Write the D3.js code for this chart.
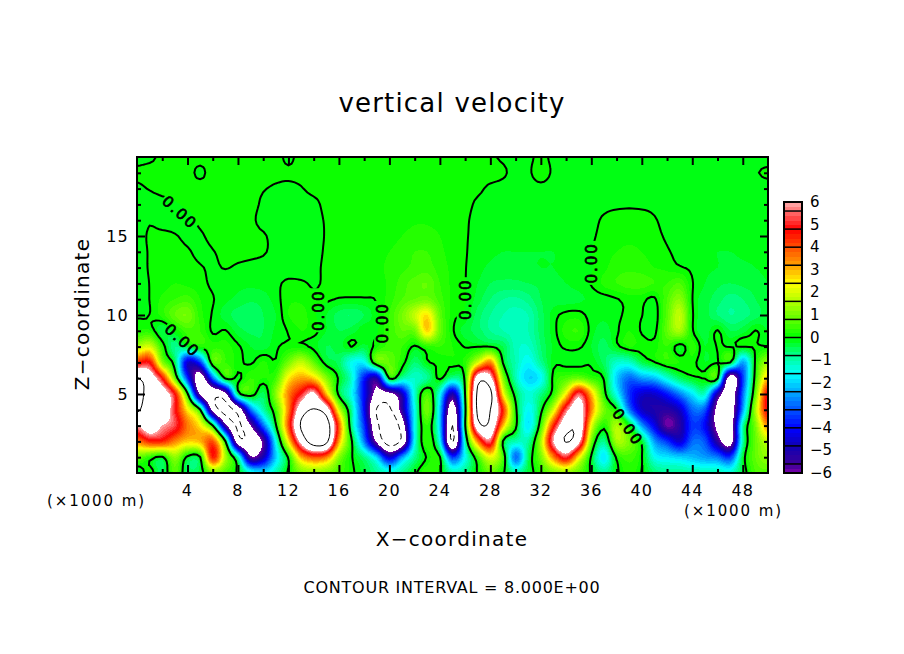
<!DOCTYPE html>
<html><head><meta charset="utf-8">
<script src="https://cdn.jsdelivr.net/npm/d3@7"></script>
<style>html,body{margin:0;padding:0;background:#fff}svg{display:block}text{font-family:"DejaVu Sans",sans-serif;fill:#000}</style>
</head><body><div id="chart"></div>
<script>
// Vertical velocity: x = 0..50 km (1 km step), rows by height z (km)
const w00=[-.4,.2,-.5,.7,-.5,-.3,.9,.6,-.1,-1.2, -1.8,-1,.1,1,1.2,1,.6,.1,-.3,-.8, -1.1,-.8,-.1,.4,.1,-1,-.7,.05,.8,.1, -.9,-.3,.4,1,1.2,.8,-.1,-.8,-.1,.3, -.02,-.6,-.8,-.8,-.9,-1,-1,-1.2,-.3,.6, .7];
const w01=[.9,.3,-.1,1.3,-.15,-.05,4.6,1.5,-1,-5.8, -4.8,-2,.1,3,4,3.6,1.2,.05,-.7,-2, -4.5,-2.5,-.8,.05,.05,-3.5,-1.5,.5,2.2,.6, -3,-.5,1,3.5,5.2,2.5,-.1,-1.8,.1,.5, .02,-1.5,-1.8,-2,-2.2,-2.5,-2.8,-3.5,-.3,.8, 1.3];
const w02=[3.5,4.5,4.5,3.5,2.8,3,4,.1,-7,-7.5, -5.7,-1.5,2.5,6.5,9,8.5,3.2,.1,-2.8,-6.3, -9,-7.5,-1.5,.4,-1.5,-8.2,-1,3.5,5.5,-.05, -1,-.9,1.5,6,8.1,6.5,1,-.8,1.5,1, -.2,-2.5,-3.5,-4.5,-3,-3.2,-5.3,-6.8,-1,.8, 1.8];
const w03=[6,7,6,5.3,3.6,2.5,.05,-5.5,-8.2,-6, -3,-.1,4,8.2,9.5,9,4,-.7,-3.5,-7.5, -9.5,-7,-1.5,.4,-2,-8,-.1,7.2,7.5,3, .2,-1.8,.5,4.5,7.2,7.5,2.2,.2,1.6,0, -2.5,-4.2,-5.9,-5.2,-3.5,-4,-6.4,-7,-1,1, 3.5];
const w04=[8.3,7,7.5,5,2.5,.1,-6.5,-8.6,-7.2,-3, -1,.5,3.5,7,8.1,7,2,-.8,-4,-8.1, -8.3,-5.3,-1.5,1,-2,-7,-.3,8.5,8,4.5, .2,-1.6,-.2,2,5.5,7,3.5,1,.05,-2.8, -4.6,-5,-5.2,-4.6,-3,-3.2,-6.5,-7.2,-2.5,1.5, 5];
const w05=[8.5,7.5,7,4.8,.2,-6.2,-7.5,-6.5,-.5,.3, -.5,1.2,3.5,5,6.3,3,-.2,-1.5,-4,-6.5, -6.5,-4.8,-1.2,.6,-1.5,-5,.05,8.5,8.5,2.5, -.3,-1.3,-.7,.3,2.5,5.5,3,.3,-1.5,-3.5, -4.5,-4.5,-3.8,-2.8,-1.8,-1.2,-5,-7.2,-3,.8, 5];
const w06=[8.1,7,4.8,.9,-3.5,-7,-3,.1,-.1,.4, .2,.5,2.5,3.2,2.8,1.2,-.1,-1.2,-3.8,-5, .1,-.9,-1.2,-.8,.1,-.8,.2,7,6.5,1.2, -1,-2,-1.6,.15,.6,.9,.4,-.05,-2,-3, -2.5,-2.2,-1.3,-.5,-.1,.02,.1,-7.2,-3.5,.3, 3];
const w07=[4.5,4.8,1.2,-.4,-4.5,-3.5,.5,.4,.1,-.05, .25,.05,1,1.8,.8,-.2,-.5,-1.5,-1.6,.7, .8,.2,-.6,-.05,.05,.1,.3,2,3.5,-.05, -1,-1.6,-.8,-.1,-.1,-.1,-.05,-.5,-1.2,-1.2, -.4,-.02,.3,.2,.1,-.2,-.02,.03,-2.5,.1, 1.5];
const w08=[1.5,2,.3,-.8,-.2,.2,.3,.3,.05,-.2, -.3,-.05,.1,.1,-.1,-.4,-.3,.01,-.3,.15, .5,.4,-.05,.3,.4,.2,-.02,-.02,-.02,-.4, -1.1,-1.2,-.6,-.15,.05,.05,-.2,-.5,-.1,.2, .1,.1,.4,-.2,.3,-.2,.02,-.02,.02,.02, .02];
const w09=[.2,.25,-.4,.02,.5,.4,-.05,.02,-.3,-.45, -.4,-.15,.02,.2,.1,-.2,-.4,-.3,-.05,-.03, .4,.8,.9,2.8,.9,.05,-.3,-.5,-.8,-1, -1.1,-1,-.5,-.1,.3,.4,-.1,-.3,-.05,.2, -.03,-.1,.8,1.5,.05,-.3,.02,-.4,-.3,.01, -.2];
const w10=[-.02,.005,.3,.8,1,.3,-.03,-.3,-.5,-.6, -.4,-.2,.2,.3,.05,-.2,-.5,-.6,-.4,-.05, .4,1,1.8,2.6,.8,.1,-.05,-.5,-.8,-1, -1.1,-1,-.5,-.1,.08,.1,-.1,-.15,-.05,.05, .01,-.15,.7,1.8,.05,-.3,-.6,-.8,-.7,-.5, -.3];
const w11=[-.15,.005,.25,.4,.5,.2,.02,-.15,-.25,-.35, -.3,-.1,.15,.15,.03,.04,-.02,-.03,-.02,.02, .3,.6,.8,.9,.5,.15,.02,-.3,-.6,-.8, -.85,-.7,-.4,-.3,-.3,-.25,-.15,-.1,-.02,.1, .08,-.05,.6,1.2,.01,-.3,-.5,-.7,-.6,-.4, -.25];
const w12=[-.12,.005,.1,.2,.15,.08,-.05,-.1,-.15,-.15, -.12,-.05,.05,.03,-.02,.03,.08,.08,.08,.1, .25,.5,.7,.8,.4,.15,.01,-.2,-.4,-.45, -.45,-.4,-.35,-.25,-.2,-.1,.02,.25,.4,.5, .5,.4,.4,.6,.02,-.2,-.35,-.4,-.35,-.3, -.2];
const w13=[-.1,.02,.1,.12,.1,.02,-.03,.01,-.03,-.06, -.08,-.1,-.12,-.1,-.04,.03,.08,.1,.12,.15, .25,.35,.45,.5,.3,.15,.01,-.12,-.25,-.3, -.3,-.25,-.2,-.2,-.15,-.1,-.02,.15,.3,.35, .3,.2,.15,.03,-.05,-.15,-.2,-.3,-.25,-.2, -.15];
const w14=[-.1,.02,.08,.1,.03,-.06,-.01,.05,.06,.05, .02,-.06,-.1,-.1,-.05,.02,.08,.1,.1,.12, .2,.3,.4,.4,.25,.12,.02,-.1,-.15,-.2, -.2,-.2,-.2,-.2,-.15,-.1,-.01,.12,.2,.25, .2,.12,.03,-.08,-.1,-.15,-.2,-.2,-.15,-.15, -.1];
const w15=[-.1,.03,.06,.02,-.06,-.03,.06,.08,.08,.06, .02,-.06,-.1,-.08,-.04,.01,.08,.1,.1,.1, .12,.2,.25,.25,.2,.1,.02,-.06,-.1,-.1, -.1,-.1,-.1,-.1,-.1,-.08,-.03,.06,.12,.15, .12,.06,-.03,-.08,-.1,-.1,-.1,-.1,-.1,-.1, -.08];
const w16=[-.1,-.02,-.1,-.1,-.06,.04,.08,.08,.08,.04, -.06,-.08,-.1,-.08,-.06,.02,.1,.1,.1,.1, .12,.15,.18,.18,.15,.1,.03,-.06,-.08,-.08, -.08,-.08,-.08,-.08,-.08,-.08,-.05,.03,.12,.15, .12,.02,-.06,-.08,-.08,-.08,-.08,-.08,-.08,-.08, -.06];
const w17=[-.08,-.08,-.06,-.02,.03,.06,.08,.08,.08,.06, -.03,-.06,-.08,-.08,-.05,.05,.08,.08,.08,.08, .08,.1,.1,.1,.08,.08,.05,-.03,-.06,-.08, -.08,-.08,-.08,-.08,-.08,-.08,-.06,-.05,-.05,-.04, -.05,-.05,-.08,-.08,-.08,-.08,-.08,-.08,-.08,-.08, -.08];
const w18=[-.03,.01,.05,.06,.06,.06,.06,.06,.06,.05, .01,-.02,-.03,-.01,.05,.06,.06,.06,.06,.06, .06,.06,.06,.06,.06,.06,.05,.03,-.03,-.05, -.06,-.06,-.04,-.06,-.06,-.06,-.06,-.06,-.06,-.06, -.06,-.06,-.06,-.06,-.06,-.06,-.06,-.06,-.06,-.06, -.05];
const w19=[.03,.05,.05,.05,.05,-.03,.06,.06,.06,.06, .06,.04,.02,.04,.06,.06,.06,.06,.06,.06, .06,.06,.06,.06,.06,.06,.06,.06,.06,.02, -.04,-.02,.06,-.02,-.05,-.05,-.05,-.05,-.05,-.05, -.05,-.05,-.05,-.05,-.05,-.05,-.05,-.05,-.05,-.01, .02];
const w20=[-.05,-.03,.03,.05,.05,.05,.05,.05,.05,.05, .05,.05,-.03,.05,.05,.05,.05,.05,.05,.05, .05,.05,.05,.05,.05,.05,.05,.05,.02,-.02, -.05,-.03,.03,-.03,-.05,-.05,-.05,-.05,-.05,-.05, -.05,-.05,-.05,-.05,-.05,-.05,-.05,-.05,-.05,-.05, -.05];
const rows=[w00,w01,w02,w03,w04,w05,w06,w07,w08,w09,w10,w11,w12,w13,w14,w15,w16,w17,w18,w19,w20];

const xMajor=[4,8,12,16,20,24,28,32,36,40,44,48];
const xMinor=[2,6,10,14,18,22,26,30,34,38,42,46];
const zMajor=[5,10,15];
const zMinor=[1,2,3,4,6,7,8,9,11,12,13,14,16,17,18,19];
const barLabels=[6,5,4,3,2,1,0,-1,-2,-3,-4,-5,-6];
const barEdges=[-5.6,-4.8,-4,-3.2,-2.4,-1.6,-.8,0,.8,1.6,2.4,3.2,4,4.8,5.6];
const colorStops=[-6,-5.6,-4.8,-4,-3.2,-2.4,-1.6,-.8,0,.8,1.6,2.4,3.2,4,4.8,5.6,6];
const colorVals=["#7c00aa","#3c0098","#1000b4","#0000ff","#0050ff","#00a8ff","#00ffff","#00ff96","#00ff00","#60ff00","#b0ff00","#ffff00","#ffa000","#ff5000","#ff0000","#ff7070","#ffb0b0"];
const labelX=[3.4,3.6,14.4,19.5,26.05,36,38.9];
const labelZ=[16.5,8.4,10.3,9.5,11,13.3,2.9];
const labelA=[42,42,-90,-90,-90,-90,55];

const W=904,H=654;
const x=d3.scaleLinear().domain([0,50]).range([137,768]);
const z=d3.scaleLinear().domain([0,20]).range([473,157]);
const color=d3.scaleLinear().domain(colorStops).range(colorVals).clamp(true);
const bar=d3.scaleLinear().domain([-6,6]).range([473,202]);

const svg=d3.select("#chart").append("svg").attr("width",W).attr("height",H);
const defs=svg.append("defs");
defs.append("clipPath").attr("id","plot").append("rect").attr("x",x(0)).attr("y",z(20)).attr("width",x(50)-x(0)).attr("height",z(0)-z(20));

// Catmull-Rom refinement of the read grid so the contours come out round
const F=4;
function cr(a,b,c,d,t){return .5*(2*b+(c-a)*t+(2*a-5*b+4*c-d)*t*t+(3*b-a-3*c+d)*t*t*t);}
const nx=rows[0].length,ny=rows.length,NX=(nx-1)*F+1,NY=(ny-1)*F+1;
const fine=new Float64Array(NX*NY);
const at=(i,j)=>rows[Math.max(0,Math.min(ny-1,j))][Math.max(0,Math.min(nx-1,i))];
for(let J=0;J<NY;J++){const j=Math.min(ny-2,Math.floor(J/F)),v=J/F-j;
 for(let I=0;I<NX;I++){const i=Math.min(nx-2,Math.floor(I/F)),u=I/F-i;
  const col=[-1,0,1,2].map(d=>cr(at(i-1,j+d),at(i,j+d),at(i+1,j+d),at(i+2,j+d),u));
  fine[J*NX+I]=cr(col[0],col[1],col[2],col[3],v);}}
const path=d3.geoPath(d3.geoTransform({point(a,b){this.stream.point(x((a-.5)/F),z((b-.5)/F));}}));
const contours=d3.contours().size([NX,NY]);

const plot=svg.append("g").attr("clip-path","url(#plot)");
plot.append("rect").attr("x",x(0)).attr("y",z(20)).attr("width",x(50)-x(0)).attr("height",z(0)-z(20)).attr("fill","#fff");
const levels=d3.range(-6,6.0001,.2).map(v=>+v.toFixed(1));
levels.forEach((t,i)=>{
  const fill=t>=6?"#fff":color(t+.1);
  plot.append("path").attr("d",path(contours.contour(fine,t))).attr("fill",fill).attr("shape-rendering","crispEdges");
});
plot.append("path").attr("d",path(contours.contour(fine,8))).attr("fill","none").attr("stroke","#000").attr("stroke-width",1);
plot.append("path").attr("d",path(contours.contour(fine.map(v=>-v),8))).attr("fill","none").attr("stroke","#000").attr("stroke-width",1).attr("stroke-dasharray","6 4");

// zero contour, broken where its labels sit
const mask=defs.append("mask").attr("id","gaps").attr("maskUnits","userSpaceOnUse").attr("x",0).attr("y",0).attr("width",W).attr("height",H);
mask.append("rect").attr("width",W).attr("height",H).attr("fill","#fff");
labelX.forEach((v,i)=>mask.append("rect").attr("x",-22).attr("y",-9).attr("width",44).attr("height",18).attr("fill","#000")
  .attr("transform",`translate(${x(v)},${z(labelZ[i])}) rotate(${labelA[i]})`));
plot.append("path").attr("d",path(contours.contour(fine,0))).attr("fill","none").attr("stroke","#000").attr("stroke-width",2).attr("mask","url(#gaps)");
labelX.forEach((v,i)=>svg.append("text").text("0.00").attr("text-anchor","middle").attr("dy","0.36em")
  .attr("font-size",15).attr("letter-spacing",2).attr("stroke","#000").attr("stroke-width",.7)
  .attr("transform",`translate(${x(v)},${z(labelZ[i])}) rotate(${labelA[i]})`));

// axes: inward ticks on all four sides
function ticks(axis,vals,len,pos){svg.append("g").attr("transform",pos).call(axis.tickValues(vals).tickSizeInner(len).tickSizeOuter(0).tickFormat(""))
  .call(g=>{g.select(".domain").remove();g.selectAll("line").attr("stroke","#000").attr("stroke-width",2);});}
ticks(d3.axisBottom(x),xMajor,-8,`translate(0,${z(0)})`);
ticks(d3.axisBottom(x),xMinor,-4,`translate(0,${z(0)})`);
ticks(d3.axisTop(x),xMajor,-8,`translate(0,${z(20)})`);
ticks(d3.axisTop(x),xMinor,-4,`translate(0,${z(20)})`);
ticks(d3.axisLeft(z),zMajor,-8,`translate(${x(0)},0)`);
ticks(d3.axisLeft(z),zMinor,-4,`translate(${x(0)},0)`);
ticks(d3.axisRight(z),zMajor,-8,`translate(${x(50)},0)`);
ticks(d3.axisRight(z),zMinor,-4,`translate(${x(50)},0)`);
svg.append("rect").attr("x",x(0)).attr("y",z(20)).attr("width",x(50)-x(0)).attr("height",z(0)-z(20)).attr("fill","none").attr("stroke","#000").attr("stroke-width",2);

svg.selectAll(".xl").data(xMajor).join("text").text(d=>d).attr("x",d=>x(d)).attr("y",496).attr("text-anchor","middle").attr("font-size",16).attr("letter-spacing",1.2);
svg.selectAll(".zl").data(zMajor).join("text").text(d=>d).attr("x",129).attr("y",d=>z(d)+6).attr("text-anchor","end").attr("font-size",16).attr("letter-spacing",1.2);

// colour bar
const barX=784,barW=18;
levels.slice(0,-1).forEach(t=>{svg.append("rect").attr("x",barX).attr("y",bar(t+.2)).attr("width",barW).attr("height",bar(t)-bar(t+.2)+.5).attr("fill",color(t+.1)).attr("shape-rendering","crispEdges");});
svg.selectAll(".be").data(barEdges).join("line").attr("x1",barX).attr("x2",barX+barW).attr("y1",d=>bar(d)).attr("y2",d=>bar(d)).attr("stroke","#000").attr("stroke-width",1.5);
svg.append("rect").attr("x",barX).attr("y",bar(6)).attr("width",barW).attr("height",bar(-6)-bar(6)).attr("fill","none").attr("stroke","#000").attr("stroke-width",2);
svg.selectAll(".bl").data(barLabels).join("text").text(d=>d<0?"\u2212"+(-d):d).attr("x",810).attr("y",d=>bar(d)+5).attr("font-size",15);

// titles
svg.append("text").text("vertical velocity").attr("x",452).attr("y",112).attr("text-anchor","middle").attr("font-size",26).attr("letter-spacing",1.2);
svg.append("text").text("X\u2212coordinate").attr("x",452).attr("y",546).attr("text-anchor","middle").attr("font-size",20).attr("letter-spacing",1.3);
svg.append("text").text("Z\u2212coordinate").attr("transform","translate(89,314) rotate(-90)").attr("text-anchor","middle").attr("font-size",20).attr("letter-spacing",1.3);
svg.append("text").text("(\u00d71000 m)").attr("x",47).attr("y",506).attr("font-size",15).attr("letter-spacing",1.9);
svg.append("text").text("(\u00d71000 m)").attr("x",684).attr("y",516).attr("font-size",15).attr("letter-spacing",1.9);
svg.append("text").text("CONTOUR INTERVAL = 8.000E+00").attr("x",452).attr("y",593).attr("text-anchor","middle").attr("font-size",16).attr("letter-spacing",.75);
</script></body></html>
